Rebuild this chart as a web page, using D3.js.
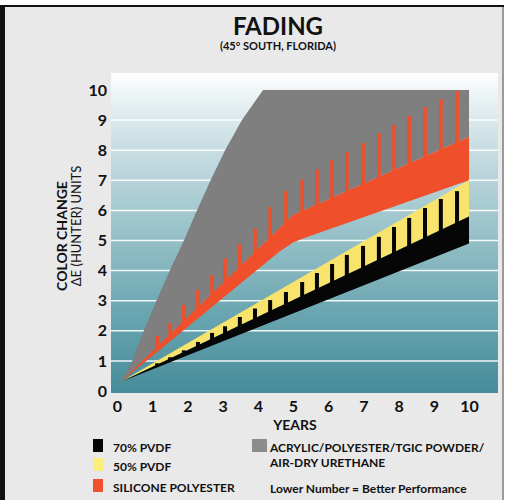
<!DOCTYPE html>
<meta charset="utf-8">
<style>
  body { margin: 0; background: #fff; }
  text { font-family: 'Lato', sans-serif; fill: #111; }
</style>

<!-- Load d3.js -->
<script src="https://d3js.org/d3.v7.min.js"></script>

<div id="my_dataviz"></div>

<script>

// ---- data ----
var xTicks = [0, 1, 2, 3, 4, 5, 6, 7, 8, 9, 10];
var yTicks = [0, 1, 2, 3, 4, 5, 6, 7, 8, 9, 10];

// acrylic / polyester / tgic powder / air-dry urethane (upper edge of grey area)
var grayYears  = [0.1, 0.43, 0.76, 1.12, 1.5, 1.9, 2.27, 2.66, 3.07, 3.55, 4.15, 10];
var grayValues = [0.3, 1.0, 2.0, 3.0, 4.0, 5.0, 6.0, 7.0, 8.0, 9.0, 10.0, 10.0];

// silicone polyester band
var redTopYears     = [0.1, 5.0, 10];
var redTopValues    = [0.3, 5.85, 8.45];
var redBottomYears  = [0.1, 4.6, 5.0, 5.4, 10];
var redBottomValues = [0.3, 4.62, 4.93, 5.12, 7.0];

// 50% PVDF band (top) and 70% PVDF band
var yellowTopYears     = [0.1, 10];
var yellowTopValues    = [0.3, 7.0];
var blackTopYears      = [0.1, 10];
var blackTopValues     = [0.3, 5.8];
var blackBottomYears   = [0.1, 10];
var blackBottomValues  = [0.3, 4.9];

// the vertical "spikes" along the bands
var spikeYears = [1.14, 1.51, 1.90, 2.30, 2.70, 3.07, 3.49, 3.92, 4.35, 4.80, 5.26,
                  5.68, 6.11, 6.53, 6.99, 7.44, 7.87, 8.30, 8.75, 9.20, 9.66];
var redSpikeValues   = [1.83, 2.26, 2.86, 3.36, 3.85, 4.40, 4.88, 5.40, 6.11, 6.64, 7.02,
                        7.36, 7.67, 7.94, 8.24, 8.57, 8.84, 9.14, 9.44, 9.70, 9.97];
var blackSpikeValues = [0.92, 1.12, 1.35, 1.63, 1.93, 2.15, 2.46, 2.74, 3.02, 3.29, 3.62,
                        3.92, 4.22, 4.52, 4.82, 5.12, 5.45, 5.75, 6.08, 6.38, 6.64];

var legendLeft  = ["70% PVDF", "50% PVDF", "SILICONE POLYESTER"];
var legendLeftColors = ["#050505", "#fbee7c", "#f0502e"];

var colors = { gray: "#7f7f7f", red: "#ef4f2b", yellow: "#f8e46c", black: "#060606" };

// ---- svg ----
var W = 507, H = 500;
var svg = d3.select("#my_dataviz")
  .append("svg")
    .attr("width", W)
    .attr("height", H);

// page background + frame (black left/top, grey right)
svg.append("rect")
  .attr("x", 3).attr("y", 6).attr("width", 500).attr("height", 500)
  .attr("fill", "#e9e9e9");
svg.append("line")
  .attr("x1", 503).attr("x2", 503).attr("y1", 6).attr("y2", H)
  .attr("stroke", "#9a9a9a").attr("stroke-width", 2);
svg.append("line")
  .attr("x1", 0).attr("x2", 504).attr("y1", 6).attr("y2", 6)
  .attr("stroke", "#111").attr("stroke-width", 2);
svg.append("rect")
  .attr("x", 0).attr("y", 6).attr("width", 5).attr("height", H)
  .attr("fill", "#111");

// plot panel
var panel = {left: 111, right: 498, top: 73, bottom: 393};

var x = d3.scaleLinear().domain([0, 10]).range([117, 469]);
var y = d3.scaleLinear().domain([0, 10]).range([391, 90]);

// background gradient of the panel
var defs = svg.append("defs");
var grad = defs.append("linearGradient")
  .attr("id", "bg")
  .attr("x1", 0).attr("y1", 0).attr("x2", 0).attr("y2", 1);
[[0, "#ffffff"], [0.06, "#eef5f6"], [0.2, "#cfe2e6"], [0.5, "#98c1c9"],
 [0.75, "#6aa6b1"], [1, "#468c99"]].forEach(function(s) {
  grad.append("stop").attr("offset", s[0]).attr("stop-color", s[1]);
});

svg.append("rect")
  .attr("x", panel.left).attr("y", panel.top)
  .attr("width", panel.right - panel.left)
  .attr("height", panel.bottom - panel.top)
  .attr("fill", "url(#bg)");

// white grid lines
svg.selectAll(".grid")
  .data(yTicks.filter(function(d) { return d > 0 && d < 10; }))
  .enter().append("line")
    .attr("class", "grid")
    .attr("x1", panel.left).attr("x2", panel.right)
    .attr("y1", function(d) { return y(d); })
    .attr("y2", function(d) { return y(d); })
    .attr("stroke", "#ffffff")
    .attr("stroke-opacity", 0.9)
    .attr("stroke-width", 1.5);

// helpers: zip years/values, build polygon between two edges
function pts(years, values) {
  return years.map(function(d, i) { return [d, values[i]]; });
}
var line = d3.line()
  .x(function(d) { return x(d[0]); })
  .y(function(d) { return y(d[1]); });
function band(upper, lower) {
  return line(upper.concat(lower.slice().reverse())) + "Z";
}

var grayTop   = pts(grayYears, grayValues);
var redTop    = pts(redTopYears, redTopValues);
var redBottom = pts(redBottomYears, redBottomValues);
var yelTop    = pts(yellowTopYears, yellowTopValues);
var blkTop    = pts(blackTopYears, blackTopValues);
var blkBottom = pts(blackBottomYears, blackBottomValues);

// grey area
svg.append("path")
  .attr("d", band(grayTop, redTop))
  .attr("fill", colors.gray);

// red band + spikes
svg.append("path")
  .attr("d", band(redTop, redBottom))
  .attr("fill", colors.red);

var redBase = d3.scaleLinear().domain(redTopYears).range(redTopValues);
svg.selectAll(".rspike")
  .data(spikeYears)
  .enter().append("rect")
    .attr("class", "rspike")
    .attr("x", function(d) { return x(d) - 1.8; })
    .attr("width", 3.6)
    .attr("y", function(d, i) { return y(redSpikeValues[i]); })
    .attr("height", function(d, i) { return y(redBase(d)) - y(redSpikeValues[i]) + 2; })
    .attr("fill", colors.red);

// yellow band
svg.append("path")
  .attr("d", band(yelTop, blkTop))
  .attr("fill", colors.yellow);

// black band + spikes
svg.append("path")
  .attr("d", band(blkTop, blkBottom))
  .attr("fill", colors.black);

var blackBase = d3.scaleLinear().domain(blackTopYears).range(blackTopValues);
svg.selectAll(".bspike")
  .data(spikeYears)
  .enter().append("rect")
    .attr("class", "bspike")
    .attr("x", function(d) { return x(d) - 2; })
    .attr("width", 4)
    .attr("y", function(d, i) { return y(blackSpikeValues[i]); })
    .attr("height", function(d, i) { return Math.max(0, y(blackBase(d)) - y(blackSpikeValues[i]) + 2); })
    .attr("fill", colors.black);

// axes (labels only)
var yAxis = svg.append("g")
  .attr("transform", "translate(" + panel.left + ",0)")
  .call(d3.axisLeft(y).tickValues(yTicks).tickSize(0).tickPadding(4).tickFormat(d3.format("d")));
var xAxis = svg.append("g")
  .attr("transform", "translate(0," + panel.bottom + ")")
  .call(d3.axisBottom(x).tickValues(xTicks).tickSize(0).tickPadding(8).tickFormat(d3.format("d")));
[yAxis, xAxis].forEach(function(a) {
  a.select(".domain").remove();
  a.selectAll("text")
    .style("font-family", "'Lato', sans-serif")
    .style("font-size", "16px")
    .style("font-weight", "bold")
    .attr("fill", "#111");
});

// titles
svg.append("text")
  .attr("x", 278).attr("y", 35)
  .attr("text-anchor", "middle")
  .style("font-size", "24px").style("font-weight", "bold")
  .text("FADING");
svg.append("text")
  .attr("x", 278).attr("y", 50)
  .attr("text-anchor", "middle")
  .style("font-size", "11px").style("font-weight", "bold")
  .text("(45° SOUTH, FLORIDA)");

svg.append("text")
  .attr("x", 295).attr("y", 430)
  .attr("text-anchor", "middle")
  .style("font-size", "14px").style("font-weight", "bold")
  .text("YEARS");

svg.append("text")
  .attr("transform", "translate(67,236) rotate(-90)")
  .attr("text-anchor", "middle")
  .style("font-size", "14px").style("font-weight", "bold")
  .text("COLOR CHANGE");
svg.append("text")
  .attr("transform", "translate(81,226) rotate(-90)")
  .attr("text-anchor", "middle")
  .style("font-size", "13px")
  .text("\u0394E (HUNTER) UNITS");

// legend
var leg = svg.selectAll(".leg")
  .data(legendLeft)
  .enter().append("g")
    .attr("class", "leg")
    .attr("transform", function(d, i) { return "translate(93," + [439, 458, 479][i] + ")"; });
leg.append("rect")
  .attr("width", 10).attr("height", 13)
  .attr("fill", function(d, i) { return legendLeftColors[i]; });
leg.append("text")
  .attr("x", 20).attr("y", 13)
  .style("font-size", "12px").style("font-weight", "bold")
  .text(function(d) { return d; });

svg.append("rect")
  .attr("x", 252).attr("y", 439).attr("width", 15).attr("height", 13)
  .attr("fill", "#8c8c8c");
svg.append("text")
  .attr("x", 270).attr("y", 452)
  .style("font-size", "12px").style("font-weight", "bold")
  .text("ACRYLIC/POLYESTER/TGIC POWDER/");
svg.append("text")
  .attr("x", 270).attr("y", 467)
  .style("font-size", "12px").style("font-weight", "bold")
  .text("AIR-DRY URETHANE");
svg.append("text")
  .attr("x", 270).attr("y", 493)
  .style("font-size", "12px").style("font-weight", "bold")
  .text("Lower Number = Better Performance");

</script>
